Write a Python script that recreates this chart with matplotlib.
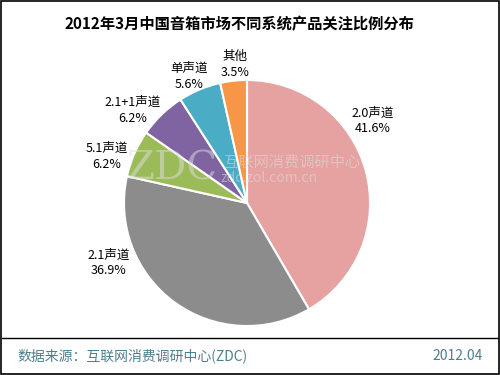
import matplotlib
matplotlib.use("Agg")
import matplotlib.pyplot as plt
from matplotlib.patches import Rectangle

plt.rcParams['font.family'] = ['Noto Sans CJK SC', 'DejaVu Sans']

title = "2012年3月中国音箱市场不同系统产品关注比例分布"
categories = ["2.0声道", "2.1声道", "5.1声道", "2.1+1声道", "单声道", "其他"]
values = [41.6, 36.9, 6.2, 6.2, 5.6, 3.5]
colors = ["#E6A1A1", "#8C8C8C", "#9BBB59", "#8064A2", "#4BACC6", "#F79646"]
explode_px = [6, 0, 0, 0, 0, 0]
source = "数据来源：互联网消费调研中心(ZDC)"
date = "2012.04"

W, H = 500, 375
fig = plt.figure(figsize=(5, 3.75), dpi=100)
ax = fig.add_axes([0, 0, 1, 1])

# border
ax.add_patch(Rectangle((1, 1), W - 2, H - 2, fill=False, edgecolor='black', lw=1.2))

R = 123
cx, cy = 247, H - 203
wedges, _ = ax.pie(values, colors=colors, startangle=90, counterclock=False,
                   radius=R, center=(cx, cy), explode=[e / R for e in explode_px],
                   wedgeprops=dict(edgecolor='white', linewidth=1.5), frame=True)
ax.set_xlim(0, W)
ax.set_ylim(0, H)
ax.set_aspect('equal')
ax.axis('off')

# labels (pixel positions)
label_pos = [(373, 121), (109, 263), (107, 156), (133, 110), (189, 76), (235, 64)]
for cat, v, (px, py) in zip(categories, values, label_pos):
    ax.text(px, H - py, f"{cat}\n{v:.1f}%", ha='center', va='center', fontsize=9,
            linespacing=1.3, color='black')

# watermark
ax.text(172, H - 169, "ZDC", fontsize=29, color='#DDDDDD', alpha=0.5, ha='center', va='center',
        family=['DejaVu Serif'])
ax.text(292, H - 162, "互联网消费调研中心", fontsize=11, color='#DDDDDD', alpha=0.55, ha='center', va='center')
ax.text(269, H - 178, "zdc.zol.com.cn", fontsize=10, color='#DDDDDD', alpha=0.55, ha='center', va='center')

ax.text(239, H - 24, title, fontsize=11, fontweight='bold', ha='center', va='center')

ax.plot([2, W - 2], [H - 338, H - 338], color='black', lw=1)
ax.text(17, H - 356, source, fontsize=10, color='#4E7F8C', ha='left', va='center')
ax.text(483, H - 356, date, fontsize=10, color='#4E7F8C', ha='right', va='center')

fig.savefig("out.png", dpi=100)
